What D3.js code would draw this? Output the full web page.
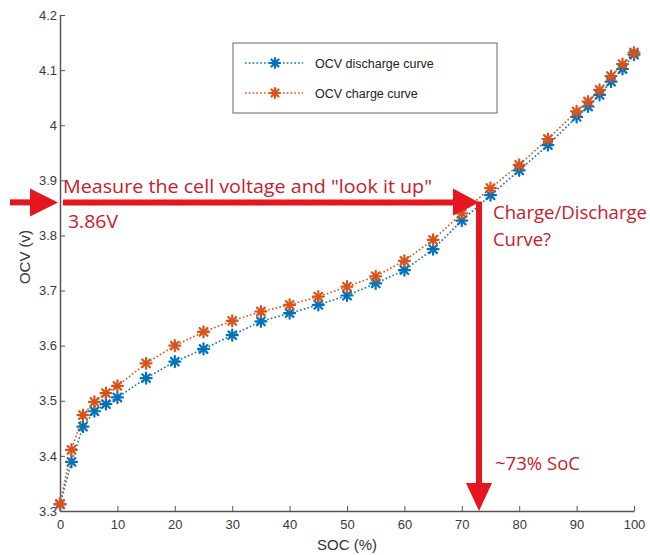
<!DOCTYPE html>
<html>
<head>
<meta charset="utf-8">
<script src="https://cdn.jsdelivr.net/npm/d3@7"></script>
<style>
  body { margin: 0; background: #fff; }
  svg { display: block; }
  .axis path, .axis line { stroke: #555; }
  .axis text { font-family: "Liberation Sans", Arial, sans-serif; font-size: 13px; fill: #3a3a3a; }
  .note { font-family: "Open Sans", sans-serif; fill: #c8202a; }
</style>
</head>
<body>
<div id="chart"></div>
<script>
// SOC sample points (%)
const soc = [0, 2, 4, 6, 8, 10, 15, 20, 25, 30, 35, 40, 45, 50, 55, 60, 65, 70, 75, 80, 85, 90, 92, 94, 96, 98, 100];
// OCV (V)
const ocvDischarge = [3.312, 3.389, 3.453, 3.481, 3.494, 3.506, 3.541, 3.571, 3.594, 3.619, 3.644, 3.659, 3.674, 3.691,
  3.713, 3.737, 3.775, 3.827, 3.873, 3.918, 3.964, 4.015, 4.034, 4.055, 4.079, 4.102, 4.128];
const ocvCharge = [3.313, 3.411, 3.474, 3.498, 3.514, 3.527, 3.568, 3.600, 3.625, 3.645, 3.662, 3.674, 3.689, 3.707,
  3.726, 3.754, 3.792, 3.840, 3.886, 3.928, 3.975, 4.025, 4.043, 4.064, 4.089, 4.111, 4.132];
const yTicks = [3.3, 3.4, 3.5, 3.6, 3.7, 3.8, 3.9, 4, 4.1, 4.2];
const xTicks = [0, 10, 20, 30, 40, 50, 60, 70, 80, 90, 100];
const seriesNames = ["OCV discharge curve", "OCV charge curve"];
const seriesColors = ["#0072bd", "#d95319"];
const lookupVoltage = 3.86;
const lookupSoc = 73;

const W = 650, H = 555;
const svg = d3.select("#chart").append("svg").attr("width", W).attr("height", H);

const x = d3.scaleLinear().domain([0, 100]).range([60, 634]);
const y = d3.scaleLinear().domain([3.3, 4.2]).range([511, 15]);

// axes, MATLAB style ticks pointing inward
svg.append("g").attr("class", "axis")
  .attr("transform", `translate(0,${y(3.3)})`)
  .call(d3.axisBottom(x).tickValues(xTicks).tickSizeInner(-5).tickSizeOuter(0).tickPadding(9))
  .call(g => g.select(".domain").attr("stroke-width", 1.5));

svg.append("g").attr("class", "axis")
  .attr("transform", `translate(${x(0)},0)`)
  .call(d3.axisLeft(y).tickValues(yTicks).tickFormat(d3.format("~g")).tickSizeInner(-5).tickSizeOuter(0).tickPadding(3))
  .call(g => g.select(".domain").attr("stroke-width", 1.5));

svg.append("text")
  .attr("x", x(50)).attr("y", 550)
  .attr("text-anchor", "middle")
  .style("font-family", "Liberation Sans, Arial, sans-serif").style("font-size", "15px").style("fill", "#333")
  .text("SOC (%)");

svg.append("text")
  .attr("transform", "translate(30,257) rotate(-90)")
  .attr("text-anchor", "middle")
  .style("font-family", "Liberation Sans, Arial, sans-serif").style("font-size", "15px").style("fill", "#333")
  .text("OCV (v)");

// asterisk marker
function star(g, cx, cy, r, color) {
  const s = g.append("g").attr("transform", `translate(${cx},${cy})`)
    .attr("stroke", color).attr("stroke-width", 2.2).attr("stroke-linecap", "round");
  [0, 45, 90, 135].forEach(a => {
    const rad = a * Math.PI / 180;
    s.append("line")
      .attr("x1", -r * Math.cos(rad)).attr("y1", -r * Math.sin(rad))
      .attr("x2", r * Math.cos(rad)).attr("y2", r * Math.sin(rad));
  });
}

const line = d3.line().x(d => x(d[0])).y(d => y(d[1]));

[ocvDischarge, ocvCharge].forEach((vals, i) => {
  const pts = soc.map((s, k) => [s, vals[k]]);
  const g = svg.append("g");
  g.append("path").datum(pts)
    .attr("d", line).attr("fill", "none")
    .attr("stroke", seriesColors[i]).attr("stroke-width", 1.6)
    .attr("stroke-dasharray", "1.6,2.2");
  pts.forEach(p => star(g, x(p[0]), y(p[1]), 5.5, seriesColors[i]));
});

// legend
const leg = svg.append("g");
leg.append("rect").attr("x", 233).attr("y", 43).attr("width", 264).attr("height", 70)
  .attr("fill", "#fff").attr("stroke", "#666").attr("stroke-width", 1);
seriesNames.forEach((n, i) => {
  const ly = 63 + i * 30;
  leg.append("line").attr("x1", 245).attr("x2", 303).attr("y1", ly).attr("y2", ly)
    .attr("stroke", seriesColors[i]).attr("stroke-width", 1.6).attr("stroke-dasharray", "1.6,2.2");
  star(leg, 275, ly, 5, seriesColors[i]);
  leg.append("text").attr("x", 315).attr("y", ly + 4.5)
    .style("font-family", "Liberation Sans, Arial, sans-serif").style("font-size", "12.5px").style("fill", "#222")
    .text(n);
});

// red look-up annotation
const red = "#e5161d";
const ay = y(lookupVoltage), ax = x(lookupSoc);
const ann = svg.append("g");
// small incoming arrow at the left
ann.append("line").attr("x1", 10).attr("x2", 32).attr("y1", ay).attr("y2", ay)
  .attr("stroke", red).attr("stroke-width", 6);
ann.append("path").attr("d", `M30,${ay - 14}L58,${ay}L30,${ay + 14}Z`).attr("fill", red);
// horizontal arrow to the curve
ann.append("line").attr("x1", 63).attr("x2", ax - 25).attr("y1", ay).attr("y2", ay)
  .attr("stroke", red).attr("stroke-width", 6);
ann.append("path").attr("d", `M${ax - 26},${ay - 14}L${ax},${ay}L${ax - 26},${ay + 13}Z`).attr("fill", red);
// vertical arrow down to the SOC axis
ann.append("line").attr("x1", ax).attr("x2", ax).attr("y1", ay - 1).attr("y2", y(3.3) - 27)
  .attr("stroke", red).attr("stroke-width", 6);
ann.append("path").attr("d", `M${ax - 13},${y(3.3) - 28}L${ax + 13},${y(3.3) - 28}L${ax},${y(3.3)}Z`).attr("fill", red);

function note(tx, ty, txt, len) {
  ann.append("text").attr("class", "note").attr("x", tx).attr("y", ty)
    .style("font-size", "18px")
    .attr("textLength", len).attr("lengthAdjust", "spacingAndGlyphs")
    .text(txt);
}
note(63, 193, "Measure the cell voltage and \"look it up\"", 369);
note(68, 228, "3.86V", 50);
note(493, 219, "Charge/Discharge", 154);
note(493, 246, "Curve?", 58);
note(495, 470, "~73% SoC", 85);
</script>
</body>
</html>
